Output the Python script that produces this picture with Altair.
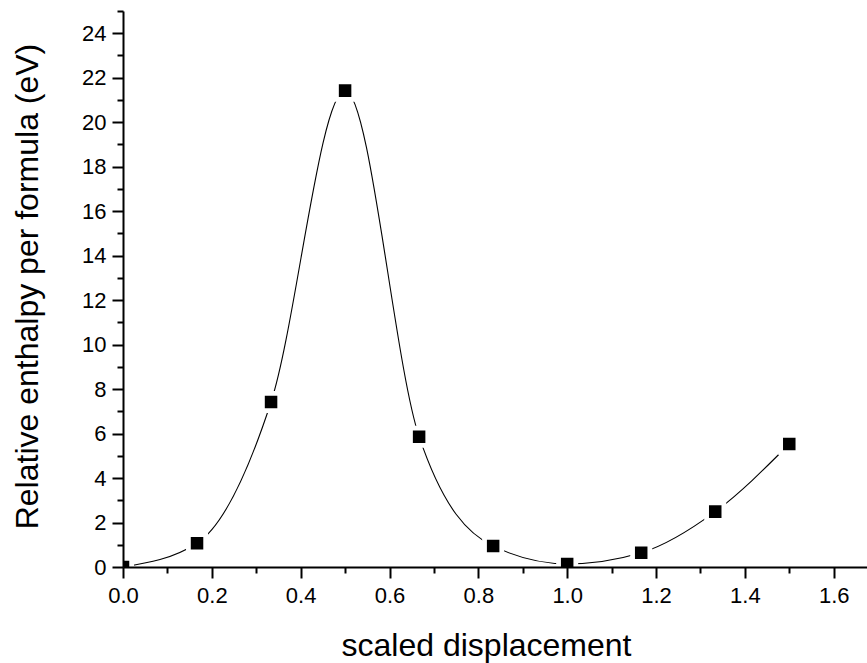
import altair as alt
import pandas as pd

# Data
displacement = [0.0, 1/6, 1/3, 0.5, 2/3, 5/6, 1.0, 7/6, 4/3, 1.5]
enthalpy = [0.0, 1.07, 7.42, 21.42, 5.86, 0.94, 0.14, 0.64, 2.49, 5.53]

x_major = [0.0, 0.2, 0.4, 0.6, 0.8, 1.0, 1.2, 1.4, 1.6]
x_minor = [0.1, 0.3, 0.5, 0.7, 0.9, 1.1, 1.3, 1.5]
y_major = [0, 2, 4, 6, 8, 10, 12, 14, 16, 18, 20, 22, 24]
y_minor = [1, 3, 5, 7, 9, 11, 13, 15, 17, 19, 21, 23, 25]

df = pd.DataFrame({"x": displacement, "y": enthalpy})

FONT = "Liberation Sans"
xscale = alt.Scale(domain=[0, 1.675], nice=False, zero=False)
yscale = alt.Scale(domain=[0, 25], nice=False, zero=False)

common_axis = dict(grid=False, domainColor="black", tickColor="black",
                   domainWidth=2, tickWidth=2, zindex=1, labelFont=FONT,
                   titleFont=FONT, labelColor="black", titleColor="black")

x_major_axis = alt.Axis(orient="bottom", values=x_major, format=".1f",
                        tickSize=11, labelFontSize=22, labelPadding=7,
                        labelFlush=False, labelOverlap=False,
                        title="scaled displacement", titleFontSize=32,
                        titleFontWeight="normal", titleX=363, titleY=88,
                        titleBaseline="alphabetic", titleAlign="center",
                        **common_axis)
y_major_axis = alt.Axis(orient="left", values=y_major, format="d",
                        tickSize=11, labelFontSize=22, labelPadding=6,
                        labelFlush=False, labelOverlap=False,
                        title="Relative enthalpy per formula (eV)",
                        titleFontSize=32, titleFontWeight="normal",
                        titleX=-86, titleY=275, titleAngle=270,
                        titleBaseline="alphabetic", titleAlign="center",
                        **common_axis)
x_minor_axis = alt.Axis(orient="bottom", values=x_minor, tickSize=6,
                        labels=False, domain=False, title=None, **common_axis)
y_minor_axis = alt.Axis(orient="left", values=y_minor, tickSize=6,
                        labels=False, domain=False, title=None, **common_axis)

line = alt.Chart(df).mark_line(interpolate="monotone", color="black",
                               strokeWidth=1.1).encode(
    x=alt.X("x:Q", scale=xscale, axis=x_minor_axis),
    y=alt.Y("y:Q", scale=yscale, axis=y_minor_axis),
)

# black square markers with a wide white stroke that opens a gap in the curve
markers = alt.Chart(df).mark_square(filled=True, clip=True).encode(
    x=alt.X("x:Q", scale=xscale, axis=x_major_axis),
    y=alt.Y("y:Q", scale=yscale, axis=y_major_axis),
    fill=alt.value("black"),
    stroke=alt.value("white"),
    strokeWidth=alt.value(4.75),
    opacity=alt.value(1),
    size=alt.value(298),
)

chart = alt.layer(line, markers).resolve_axis(
    x="independent", y="independent"
).properties(
    width=744, height=556,
    autosize=alt.AutoSizeParams(type="none"),
    padding={"left": 123, "top": 11, "right": 0, "bottom": 96},
    background="white",
).configure_view(stroke=None)

chart.save("out.html", embed_options={"renderer": "svg", "actions": False})
